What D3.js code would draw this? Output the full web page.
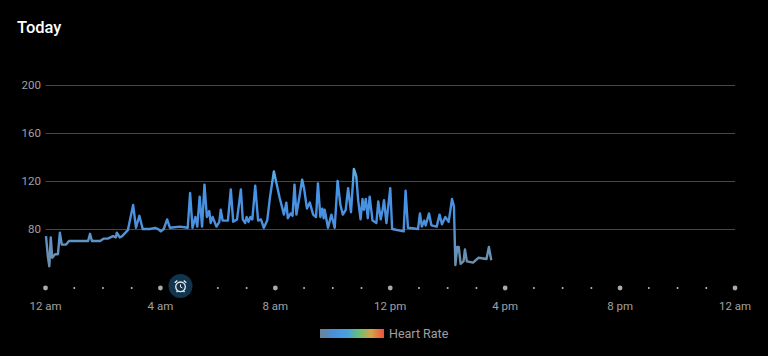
<!DOCTYPE html>
<html><head><meta charset="utf-8">
<script src="https://cdn.jsdelivr.net/npm/d3@7/dist/d3.min.js"></script>
<style>html,body{margin:0;padding:0;background:#000;overflow:hidden}svg{display:block}text{font-family:Roboto,sans-serif}</style>
</head><body><svg id="c" width="768" height="356"></svg>
<script>
const minutes=[1,5,8,11,14,20,26,30,34,43,49,89,93,97,114,122,130,141,147,149,155,160,172,183,189,196,203,218,229,235,241,247,254,260,281,297,302,307,313,317,322,327,332,337,342,345,349,357,363,366,370,381,387,392,400,408,412,417,420,424,428,432,438,444,450,456,463,469,477,489,498,503,506,512,516,520,524,530,536,540,546,552,559,565,569,574,578,581,583,590,597,604,610,616,621,627,632,638,644,649,653,658,662,665,669,673,677,683,691,695,700,704,707,712,720,724,748,752,757,778,782,786,791,794,801,806,817,823,828,835,842,849,853,856,860,863,867,873,876,880,893,904,921,926,931];
const bpm=[74,57,49,73,56,59,59,77,67,67,70,70,76,70,70,72,72,74,73,77,73,74,79,100,81,91,80,80,81,80,78,80,88,81,82,81,110,81,90,82,107,82,117,90,95,85,90,82,86,96,87,87,113,86,88,113,88,85,90,86,90,88,116,87,88,81,87,107,128,106,92,102,89,93,91,117,92,106,121,114,97,102,92,90,118,90,97,89,96,81,92,81,120,100,92,96,114,94,130,124,104,88,105,96,105,89,107,87,85,103,88,96,104,85,114,80,78,112,81,80,93,82,87,83,93,83,82,92,84,90,86,105,99,50,65,65,51,53,63,53,52,56,55,65,54];
const yTicks=[80,120,160,200];
const hourLabels=["12 am","4 am","8 am","12 pm","4 pm","8 pm","12 am"];
const hours=d3.range(0,25);
const alarmMinute=282;
const title="Today", legendLabel="Heart Rate";

const svg=d3.select("#c");
const x=d3.scaleLinear().domain([0,1440]).range([45.5,735]);
const y=d3.scaleLinear().domain([80,200]).range([229,85]);
const defs=svg.append("defs");

const lg=defs.append("linearGradient").attr("id","hr").attr("gradientUnits","userSpaceOnUse")
  .attr("x1",0).attr("x2",0).attr("y1",y(50)).attr("y2",y(130));
[[0,"#6f8fa8"],[0.25,"#5f93c4"],[0.45,"#4a90de"],[0.8,"#4693e6"],[1,"#5fb4e6"]].forEach(s=>lg.append("stop").attr("offset",s[0]).attr("stop-color",s[1]));
const lb=defs.append("linearGradient").attr("id","lg");
[[0,"#6b8397"],[0.2,"#4a8fd8"],[0.42,"#45a0e0"],[0.62,"#6cc070"],[0.8,"#d8a24a"],[1,"#f0503c"]].forEach(s=>lb.append("stop").attr("offset",s[0]).attr("stop-color",s[1]));

svg.append("text").attr("x",17).attr("y",33).attr("fill","#fff").attr("font-size",16.5).attr("font-weight",500).text(title);

yTicks.forEach(t=>{
  svg.append("line").attr("x1",x(0)).attr("x2",x(1440)).attr("y1",y(t)+.5).attr("y2",y(t)+.5).attr("stroke","#474747").attr("stroke-width",1);
  svg.append("text").attr("x",41).attr("y",y(t)+4).attr("text-anchor","end").attr("fill","#a0a0a0").attr("font-size",11.5).text(t);
});

svg.selectAll("circle.dot").data(hours).enter().append("circle").attr("class","dot")
  .attr("cx",h=>x(h*60)).attr("cy",288)
  .attr("r",h=>h%4===0?2.4:1).attr("fill",h=>h%4===0?"#aaa":"#bbb");

hourLabels.forEach((l,i)=>svg.append("text").attr("x",x(i*240)).attr("y",310).attr("text-anchor","middle").attr("fill","#a0a0a0").attr("font-size",11.5).text(l));

const line=d3.line().x(i=>x(minutes[i])).y(i=>y(bpm[i])).curve(d3.curveLinear);
svg.append("path").attr("d",line(d3.range(minutes.length))).attr("fill","none").attr("stroke","url(#hr)").attr("stroke-width",2.4).attr("stroke-linejoin","round");

const a=svg.append("g").attr("transform",`translate(${x(alarmMinute)},286)`);
a.append("circle").attr("r",12).attr("fill","#12344d");
a.append("circle").attr("r",4.8).attr("cy",.8).attr("fill","none").attr("stroke","#e8eef2").attr("stroke-width",1.3);
a.append("path").attr("d","M0,-1.6V1L2,2").attr("fill","none").attr("stroke","#e8eef2").attr("stroke-width",1);
a.append("path").attr("d","M-5.8,-3.2L-3.2,-5.4M5.8,-3.2L3.2,-5.4M-3,5L-4,6.2M3,5L4,6.2").attr("fill","none").attr("stroke","#e8eef2").attr("stroke-width",1.3);

svg.append("rect").attr("x",320).attr("y",329).attr("width",64).attr("height",9).attr("fill","url(#lg)");
svg.append("text").attr("x",389).attr("y",338).attr("fill","#a0a0a0").attr("font-size",12.5).text(legendLabel);
</script></body></html>
